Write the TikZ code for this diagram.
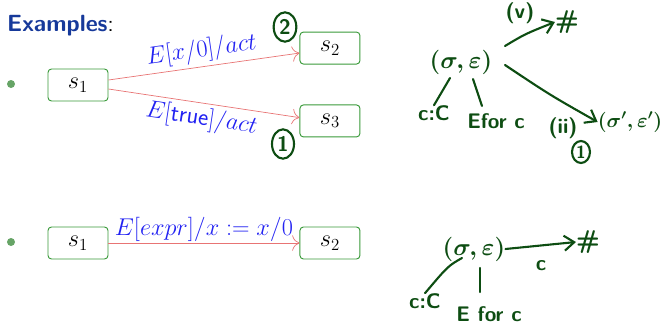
\documentclass[tikz,border=0pt]{standalone}
\usepackage{xcolor}
\usepackage{tikz}
\usetikzlibrary{arrows.meta,positioning,shapes.geometric}
\definecolor{headblue}{HTML}{16399A}
\definecolor{boxgreen}{HTML}{3A9A3A}
\definecolor{bulletgreen}{HTML}{66A466}
\definecolor{edgered}{HTML}{E87474}
\definecolor{labelblue}{HTML}{2222F2}
\definecolor{hand}{HTML}{0D4D12}
\tikzset{
  state/.style={draw=boxgreen, rounded corners=3pt, fill=white, line width=0.8pt, minimum width=1.8cm, minimum height=0.96cm, inner sep=0pt, font=\fontsize{20}{24}\selectfont},
  bullet/.style={circle, fill=bulletgreen, inner sep=0pt, minimum size=0.24cm},
  trans/.style={-{To[length=2.2mm]}, draw=edgered, line width=0.6pt},
  translabel/.style={text=labelblue, font=\fontsize{20.5}{24}\selectfont, inner sep=3pt},
  scribble/.style={text=hand, font=\fontsize{18}{21}\sffamily\bfseries, inner sep=0pt},
  scribmath/.style={text=hand, font=\fontsize{21}{24}\selectfont\boldmath, inner sep=0pt},
  circled/.style={text=hand, font=\fontsize{18}{20}\sffamily\bfseries, inner sep=0pt},
  ring/.style={draw=hand, line width=1.8pt},
  stroke/.style={draw=hand, line width=1.8pt, line cap=round},
  strokearrow/.style={draw=hand, line width=1.8pt, line cap=round, -{Straight Barb[length=3mm, width=4.5mm]}}
}
\begin{document}
\begin{tikzpicture}[x=0.03cm, y=-0.03cm]
  \useasboundingbox (0,0) rectangle (662,332);

  \node[anchor=base west, inner sep=0pt, font=\fontsize{20}{24}\sffamily] (title) at (7,31) {\textcolor{headblue}{\bfseries Examples}:};

  % first example
  \node[bullet] (b1) at (11,84) {};
  \node[state] (s1a) at (78,85) {$s_1$};
  \node[state, above right=0.12cm and 5.73cm of s1a] (s2a) {$s_2$};
  \node[state, below right=0.09cm and 5.73cm of s1a] (s3a) {$s_3$};
  \draw[trans] ([yshift=0.15cm]s1a.east) -- node[translabel, sloped, above] {$E[x/0]/act$} ([yshift=-0.15cm]s2a.west);
  \draw[trans] ([yshift=-0.12cm]s1a.east) -- node[translabel, sloped, below] {$E[\mathsf{true}]/act$} ([yshift=0.1cm]s3a.west);
  \node[circled] (two) at (285,27) {2};
  \node[circled] (one) at (283,144) {1};
  \draw[ring] (two.center) ellipse [x radius=0.34cm, y radius=0.44cm];
  \draw[ring] (one.center) ellipse [x radius=0.33cm, y radius=0.44cm];

  % second example
  \node[bullet] (b2) at (11,242) {};
  \node[state] (s1b) at (78,243) {$s_1$};
  \node[state, right=5.73cm of s1b] (s2b) {$s_2$};
  \draw[trans] (s1b) -- node[translabel, above, yshift=-2pt] {$E[expr]/x := x/0$} (s2b);

  % notes, top
  \node[scribmath] (conf) at (461,62) {$(\sigma,\varepsilon)$};
  \node[scribble] (v) at (520,13) {(v)};
  \node[scribble, font=\fontsize{22}{24}\sffamily\bfseries] (hash) at (567,22) {\#};
  \node[scribble] (cC) at (434,113) {c:C};
  \node[scribble] (efor) at (496,121) {Efor c};
  \node[scribmath, font=\fontsize{18}{21}\selectfont\boldmath] (conf2) at (630,122) {$(\sigma',\varepsilon')$};
  \node[scribble] (ii) at (563,128) {(ii)};
  \node[circled, font=\fontsize{15}{17}\sffamily\bfseries] (onet) at (581,152) {1};
  \draw[ring] (onet.center) ellipse [x radius=0.27cm, y radius=0.33cm];
  \draw[strokearrow] (505,46) .. controls (525,34) .. (hash.west);
  \draw[stroke] (450,78) -- (cC.north);
  \draw[stroke] (473,79) -- (482,106);
  \draw[strokearrow] (505,65) .. controls (550,95) .. (conf2.west);

  % notes, bottom
  \node[scribmath] (confb) at (474,249) {$(\sigma,\varepsilon)$};
  \node[scribble, font=\fontsize{22}{24}\sffamily\bfseries] (hashb) at (588,242) {\#};
  \node[scribble] (cb) at (541,266) {c};
  \node[scribble] (cCb) at (425,301) {c:C};
  \node[scribble] (eforb) at (489,314) {E for c};
  \draw[strokearrow] (confb.east) -- (hashb.west);
  \draw[stroke] (462,258) .. controls (448,266) .. (cCb.north);
  \draw[stroke] (480,268) -- (480,292);
\end{tikzpicture}
\end{document}
